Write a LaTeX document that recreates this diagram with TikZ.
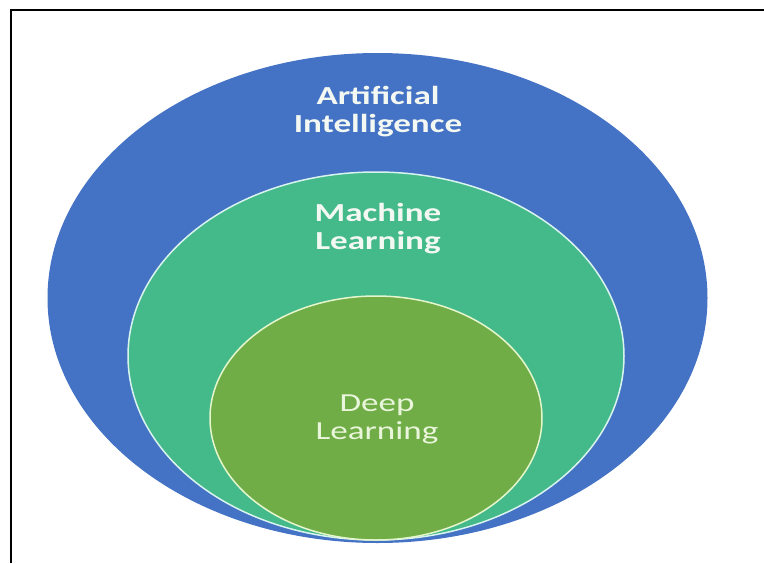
\documentclass[tikz,border=0pt]{standalone}
\usepackage{fontspec}
\setmainfont{Carlito}
\usetikzlibrary{positioning}
\definecolor{aiblue}{HTML}{4472C4}
\definecolor{mlteal}{HTML}{44B98A}
\definecolor{dlgreen}{HTML}{70AD47}
\definecolor{mledge}{HTML}{D8F4EE}
\definecolor{dledge}{HTML}{E6F6CC}
\definecolor{labelwhite}{HTML}{F4F8F2}
\definecolor{labelcream}{HTML}{EAF6DC}

\begin{document}
\begin{tikzpicture}[
    x=1pt, y=-1pt,
    every node/.style={align=center, xscale=1.35},
    boldlabel/.style={font=\fontsize{26}{28}\selectfont\bfseries, text=labelwhite},
    plainlabel/.style={font=\fontsize{26}{28}\selectfont, text=labelcream}
  ]
    \useasboundingbox (0,0) rectangle (764,563);

    % Frame
    \draw[line width=2pt] (11,563) -- (11,10) -- (764,10);

    % Nested sets
    \fill[aiblue] (377.5,298) ellipse (330 and 245);
    \filldraw[fill=mlteal, draw=mledge, line width=1.5pt] (376,356) ellipse (248 and 184);
    \filldraw[fill=dlgreen, draw=dledge, line width=1.5pt] (376,418) ellipse (166 and 122);

    % Labels
    \node[boldlabel] (ai) at (378,112) {Artificial\\Intelligence};
    \node[boldlabel] (ml) at (378,229) {Machine\\Learning};
    \node[plainlabel] (dl) at (377,419) {Deep\\Learning};
\end{tikzpicture}
\end{document}
